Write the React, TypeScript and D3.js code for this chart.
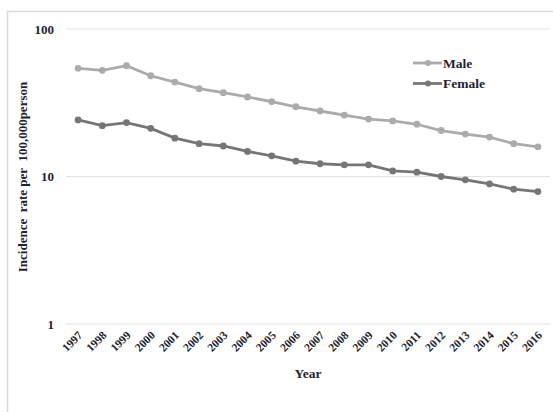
import React from "react";
import * as d3 from "d3";

const years = ["1997","1998","1999","2000","2001","2002","2003","2004","2005","2006","2007","2008","2009","2010","2011","2012","2013","2014","2015","2016"];
const male = [54.1,52.5,56.4,48.2,43.7,39.4,37.0,34.6,32.2,29.7,27.8,26.1,24.5,23.8,22.6,20.5,19.4,18.5,16.7,15.9];
const female = [24.2,22.1,23.2,21.2,18.2,16.7,16.1,14.8,13.8,12.7,12.2,12.0,12.0,10.9,10.7,10.0,9.5,8.9,8.2,7.9];
const yTicks = [1, 10, 100];
const seriesNames = ["Male", "Female"];

const W = 553, H = 412;
const left = 66, right = 550, top = 29, bottom = 324;
const font = "'Liberation Serif', 'Times New Roman', serif";
const textColor = "#1e2330";

export default function App() {
  const x = d3.scaleBand().domain(years).range([left, right]);
  const y = d3.scaleLog().domain([1, 100]).range([bottom, top]);
  const cx = (yr: string) => (x(yr) as number) + x.bandwidth() / 2;
  const line = d3.line<number>().x((_, i) => cx(years[i])).y((d) => y(d));
  const series = [
    { name: seriesNames[0], data: male, color: "#ababab" },
    { name: seriesNames[1], data: female, color: "#767676" },
  ];
  return (
    <svg width={W} height={H} style={{ position: "absolute", left: 0, top: 0 }} fontFamily={font}>
      <rect x={0} y={0} width={W} height={H} fill="#fff" />
      <path d={`M7.5,${H} L7.5,11.5 L${W},11.5`} fill="none" stroke="#d9d9d9" strokeWidth={1.5} />
      {yTicks.map((t) => (
        <g key={t}>
          <line x1={left} x2={right} y1={y(t)} y2={y(t)} stroke="#e3e3e3" strokeWidth={1.2} />
          <text x={54} y={y(t)} dy="0.35em" textAnchor="end" fontSize={13} fontWeight="bold" fill={textColor}>{t}</text>
        </g>
      ))}
      {series.map((s) => (
        <g key={s.name}>
          <path d={line(s.data) || ""} fill="none" stroke={s.color} strokeWidth={2.8} />
          {s.data.map((v, i) => (
            <circle key={i} cx={cx(years[i])} cy={y(v)} r={3.4} fill={s.color} />
          ))}
        </g>
      ))}
      {years.map((yr) => (
        <text key={yr} transform={`translate(${cx(yr) + 5},${bottom + 12}) rotate(-45)`} textAnchor="end" fontSize={11.5} fontWeight="bold" fill={textColor}>{yr}</text>
      ))}
      <text x={308} y={378} textAnchor="middle" fontSize={13.5} fontWeight="bold" fill={textColor}>Year</text>
      <text transform={`translate(27,177) rotate(-90)`} textAnchor="middle" fontSize={13} fontWeight="bold" fill={textColor} style={{ whiteSpace: "pre" }}>{"Incidence  rate per  100,000person"}</text>
      {series.map((s, i) => (
        <g key={s.name} transform={`translate(413,${63 + i * 20.5})`}>
          <line x1={0} x2={29} y1={0} y2={0} stroke={s.color} strokeWidth={2.8} />
          <circle cx={15} cy={0} r={3} fill={s.color} />
          <text x={30} y={0} dy="0.35em" fontSize={13.5} fontWeight="bold" fill={textColor}>{s.name}</text>
        </g>
      ))}
    </svg>
  );
}
